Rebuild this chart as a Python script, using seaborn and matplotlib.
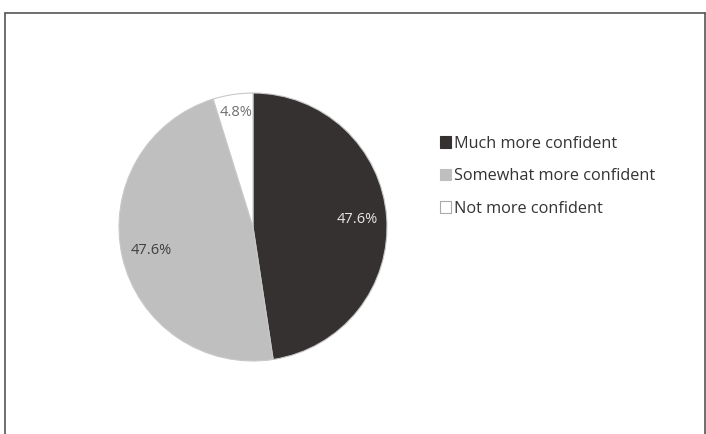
import matplotlib
matplotlib.use("Agg")
import matplotlib.pyplot as plt
from matplotlib.patches import Patch
from matplotlib.lines import Line2D
import seaborn as sns

# 데이터
categories = ["Much more confident", "Somewhat more confident", "Not more confident"]
shares = [47.6, 47.6, 4.8]
colors = ["#353131", "#bfbfbf", "#ffffff"]
pct_colors = ["#e6e6e6", "#404040", "#707070"]

sns.set_theme(style="white")
plt.rcParams["font.family"] = ["Open Sans", "DejaVu Sans"]

fig = plt.figure(figsize=(7.06, 4.34), dpi=100)
W, H = 706, 434

# 바깥 테두리 (위, 왼쪽, 오른쪽)
for xs, ys in [((5, 705), (13, 13)), ((5, 5), (13, 434)), ((705, 705), (13, 434))]:
    fig.add_artist(Line2D([x / W for x in xs], [1 - y / H for y in ys],
                          color="#555555", linewidth=1.2, transform=fig.transFigure))

# 파이 차트
cx, cy, r = 253, 227, 134
ax = fig.add_axes([(cx - r) / W, 1 - (cy + r) / H, 2 * r / W, 2 * r / H])
wedges, texts, autotexts = ax.pie(
    shares, colors=colors, startangle=90, counterclock=False,
    autopct="%.1f%%", pctdistance=0.78,
    wedgeprops=dict(edgecolor="#c8c8c8", linewidth=0.8),
    textprops=dict(fontsize=10.5),
)
for t, c in zip(autotexts, pct_colors):
    t.set_color(c)
# 작은 조각 라벨은 바깥쪽으로
x0, y0 = autotexts[2].get_position()
autotexts[2].set_position((x0 * 1.11, y0 * 1.11))
ax.set_xlim(-1, 1)
ax.set_ylim(-1, 1)
ax.set_aspect("equal")

handles = [Patch(facecolor=c, edgecolor="#aaaaaa" if c == "#ffffff" else c, linewidth=0.8)
           for c in colors]
fig.legend(handles, categories, loc="upper left", bbox_to_anchor=(425 / W, 1 - 121 / H),
           frameon=False, fontsize=11.7, handlelength=0.7, handleheight=0.7,
           handletextpad=0.2, labelspacing=1.02, labelcolor="#333333")

fig.savefig("out.png", dpi=100)
